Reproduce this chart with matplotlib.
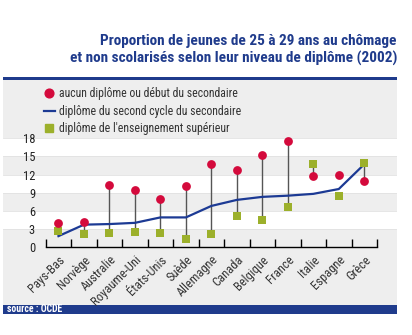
import matplotlib
matplotlib.use("Agg")
import matplotlib.pyplot as plt
import numpy as np
from matplotlib import font_manager as fm
from matplotlib.patches import Rectangle
from matplotlib.lines import Line2D

names = {f.name for f in fm.fontManager.ttflist}
FONT = "Liberation Sans"
for cand in ["Liberation Sans Narrow", "Arial Narrow", "Roboto Condensed", "Archivo Narrow",
             "PT Sans Narrow", "Open Sans Condensed", "DejaVu Sans Condensed"]:
    if cand in names:
        FONT = cand
        break
plt.rcParams['font.family'] = [FONT, 'DejaVu Sans']

countries = ["Pays-Bas", "Norvège", "Australie", "Royaume-Uni", "États-Unis", "Suède",
             "Allemagne", "Canada", "Belgique", "France", "Italie", "Espagne", "Grèce"]
aucun = [4.0, 4.2, 10.2, 9.4, 8.0, 10.1, 13.8, 12.7, 15.2, 17.6, 11.8, 11.9, 11.0]
second = [1.8, 3.7, 3.8, 4.0, 4.9, 4.9, 6.8, 7.8, 8.3, 8.5, 8.8, 9.6, 13.7]
superieur = [2.7, 2.2, 2.3, 2.5, 2.3, 1.4, 2.2, 5.2, 4.5, 6.55, 13.8, 8.5, 13.9]
yticks = [0, 3, 6, 9, 12, 15, 18]

lab_aucun = "aucun diplôme ou début du secondaire"
lab_second = "diplôme du second cycle du secondaire"
lab_sup = "diplôme de l'enseignement supérieur"
title = "Proportion de jeunes de 25 à 29 ans au chômage\net non scolarisés selon leur niveau de diplôme (2002)"
source = "source : OCDE"

W, H = 412, 335
fig = plt.figure(figsize=(W / 100, H / 100), dpi=100)
fig.patch.set_facecolor("white")

def fx(px): return px / W
def fy(py): return 1 - py / H

BLUE = "#1f3b8c"
GRAY = "#eeeeee"
RED = "#d40a3c"
GREEN = "#9cb02b"
LINE = "#1c3a94"

fig.patches.append(Rectangle((fx(3), fy(305)), fx(394), 225 / H, transform=fig.transFigure,
                             facecolor=GRAY, edgecolor="none", zorder=-5))
fig.patches.append(Rectangle((fx(3), fy(80)), fx(394), 3 / H, transform=fig.transFigure,
                             facecolor=BLUE, edgecolor="none", zorder=-4))
fig.patches.append(Rectangle((fx(3), fy(314)), fx(394), 9 / H, transform=fig.transFigure,
                             facecolor=BLUE, edgecolor="none", zorder=-4))
fig.text(fx(7), fy(309.5), source, color="white", fontsize=7, fontweight="bold",
         va="center", ha="left")

fig.text(fx(397), fy(50), title, color=BLUE, fontsize=11, fontweight="bold",
         ha="right", va="center", multialignment="right", linespacing=1.3)

y0_px, y18_px = 247, 138.3
bottom = fy(y0_px)
height = (y0_px - y18_px) / H

bg = fig.add_axes([fx(3), bottom, fx(394), height], zorder=1)
bg.set_xlim(0, 1)
bg.set_ylim(0, 18)
bg.patch.set_alpha(0)
for lo_ in (3, 9, 15):
    bg.axhspan(lo_, lo_ + 3, color="white", lw=0)
for v in (3, 6, 9, 12, 15, 18):
    bg.axhline(v, color="#e2e2e2", lw=0.6)
bg.axis("off")

ax = fig.add_axes([fx(45.7), bottom, fx(331.3), height], zorder=2)
ax.patch.set_alpha(0)
x = np.arange(len(countries))
ax.set_xlim(-0.5, len(countries) - 0.5)
ax.set_ylim(0, 18)

lo = np.minimum(aucun, superieur)
hi = np.maximum(aucun, superieur)
mask = np.array([c != "Espagne" for c in countries])
ax.vlines(x[mask], lo[mask], hi[mask], color="#555555", lw=1.0, zorder=2)
ax.plot(x, second, color=LINE, lw=1.6, zorder=3, label=lab_second)
ax.scatter(x, superieur, marker="s", s=36, color=GREEN, zorder=4, clip_on=False,
           label=lab_sup, linewidths=0)
ax.scatter(x, aucun, marker="o", s=40, color=RED, zorder=5, clip_on=False,
           label=lab_aucun, linewidths=0)

for s in ("left", "right", "top"):
    ax.spines[s].set_visible(False)
ax.spines["bottom"].set_linewidth(1.0)
ax.set_xticks(np.arange(-0.5, len(countries)))
ax.set_xticklabels([])
ax.tick_params(axis="x", which="major", direction="in", length=6, width=1.0)
ax.set_xticks(x, minor=True)
ax.set_xticklabels(countries, minor=True, rotation=45, ha="right",
                   rotation_mode="anchor", fontsize=9, color="#333333")
ax.tick_params(axis="x", which="minor", length=0, pad=4.5)
ax.set_yticks(yticks)
ax.set_yticklabels([str(v) for v in yticks], fontsize=9, color="#222222")
ax.tick_params(axis="y", length=0, pad=7.7)

h_a = Line2D([], [], marker="o", color=RED, ls="none", markersize=6.3)
h_s = Line2D([], [], color=LINE, lw=1.6)
h_g = Line2D([], [], marker="s", color=GREEN, ls="none", markersize=6)
leg = fig.legend([h_a, h_s, h_g], [lab_aucun, lab_second, lab_sup], loc="upper left",
                 bbox_to_anchor=(fx(44), fy(87)), frameon=False, fontsize=8.5,
                 handlelength=0.9, handletextpad=0.35, labelspacing=0.4,
                 borderpad=0, borderaxespad=0)
for t in leg.get_texts():
    t.set_color("#333333")

fig.savefig("out.png", dpi=100)
